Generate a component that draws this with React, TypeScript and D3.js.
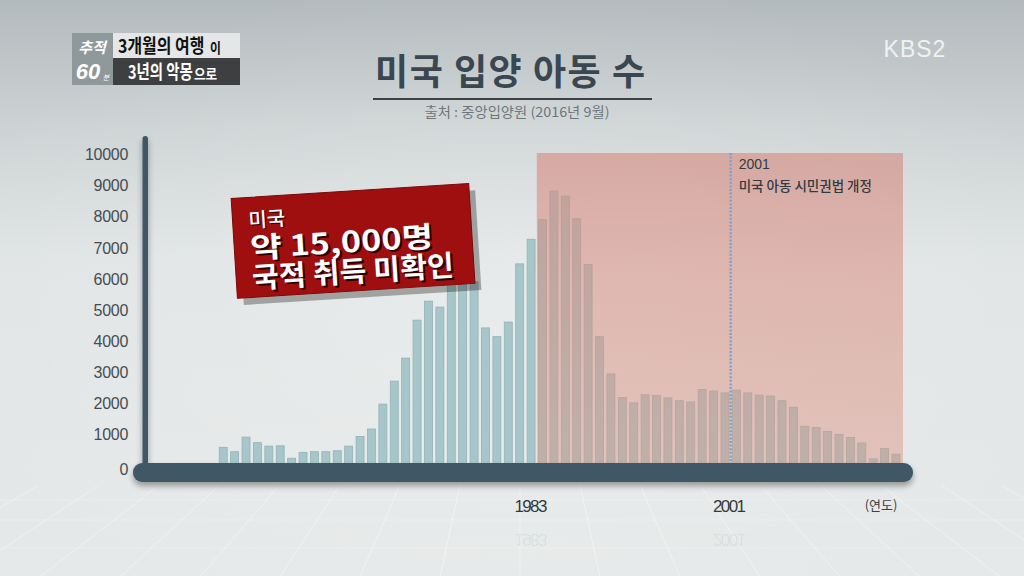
import React from "react";
import * as d3 from "d3";

const years: number[] = d3.range(1953, 2016);
const adoptions: number[] = [
  4, 8, 59, 600, 460, 930, 750, 640, 650, 250,
  440, 460, 460, 490, 640, 950, 1190, 1990, 2730, 3470,
  4690, 5300, 5110, 6600, 6160, 5920, 4440, 4160, 4630, 6500,
  7290, 7920, 8840, 8680, 7950, 6480, 4160, 2960, 2200, 2030,
  2290, 2270, 2190, 2100, 2060, 2460, 2410, 2350, 2440, 2350,
  2280, 2250, 2100, 1890, 1280, 1240, 1110, 1020, 920, 740,
  230, 560, 380,
];
const yTicks: number[] = [0, 1000, 2000, 3000, 4000, 5000, 6000, 7000, 8000, 9000, 10000];
const xLabels: number[] = [1983, 2001];
const highlightStart = 1984;
const lawYear = 2001;

const title = "미국 입양 아동 수";
const source = "출처 : 중앙입양원 (2016년 9월)";
const boxLines = ["미국", "약 15,000명", "국적 취득 미확인"];
const noteLines = ["2001", "미국 아동 시민권법 개정"];
const unitLabel = "(연도)";

const KR = "'Noto Sans CJK KR', 'Noto Sans', sans-serif";
const NUM = "'Liberation Sans', Arial, sans-serif";

export default function App() {
  const x = d3
    .scaleBand<number>()
    .domain(years)
    .range([183.3, 901.7])
    .paddingInner(0.3)
    .paddingOuter(0.15);
  const y = d3.scaleLinear().domain([0, 10000]).range([466, 155]);
  const step = x.step();
  const bw = x.bandwidth();
  const redX0 = (x(highlightStart) as number) - step * 0.15;
  const lawX = (x(lawYear) as number) - step * 0.15;

  const floorLines = d3.range(-14, 15).map((i) => i);

  return (
    <div style={{ position: "fixed", left: 0, top: 0, width: 1024, height: 576 }}>
      <svg width={1024} height={576} style={{ display: "block" }}>
        <defs>
          <linearGradient id="bg" x1="0" y1="0" x2="0" y2="1">
            <stop offset="0" stopColor="#b3babd" />
            <stop offset="0.22" stopColor="#cdd3d4" />
            <stop offset="0.45" stopColor="#e0e4e4" />
            <stop offset="1" stopColor="#e6e9e9" />
          </linearGradient>
          <radialGradient id="spot" cx="0.5" cy="0.55" r="0.6">
            <stop offset="0" stopColor="#ffffff" stopOpacity="0.25" />
            <stop offset="1" stopColor="#ffffff" stopOpacity="0" />
          </radialGradient>
          <linearGradient id="redGrad" x1="0" y1="0" x2="0" y2="1">
            <stop offset="0" stopColor="#d6857a" stopOpacity="0.58" />
            <stop offset="1" stopColor="#db9888" stopOpacity="0.48" />
          </linearGradient>
          <filter id="axShadow" x="-5%" y="-50%" width="110%" height="250%">
            <feGaussianBlur in="SourceAlpha" stdDeviation="3" />
            <feOffset dx="0" dy="4" result="b" />
            <feComponentTransfer>
              <feFuncA type="linear" slope="0.35" />
            </feComponentTransfer>
            <feMerge>
              <feMergeNode />
              <feMergeNode in="SourceGraphic" />
            </feMerge>
          </filter>
          <clipPath id="floorClip">
            <rect x={0} y={486} width={1024} height={90} />
          </clipPath>
        </defs>

        <rect x={0} y={0} width={1024} height={576} fill="url(#bg)" />
        <rect x={0} y={0} width={1024} height={576} fill="url(#spot)" />

        {/* floor perspective lines */}
        <g clipPath="url(#floorClip)" stroke="#ffffff" strokeOpacity={0.4} strokeWidth={1}>
          {floorLines.map((i) => (
            <line key={i} x1={520 + i * 20} y1={300} x2={520 + i * 150} y2={900} />
          ))}
          {[500, 520, 548].map((yy) => (
            <line key={yy} x1={0} y1={yy} x2={1024} y2={yy} strokeOpacity={0.25} />
          ))}
        </g>

        {/* logo top-left */}
        <rect x={72} y={33} width={41} height={52} fill="#8f989b" />
        <text x={92} y={53} fill="#ffffff" fontFamily={KR} fontSize={15} fontStyle="italic" textAnchor="middle" fontWeight={700}>
          추적
        </text>
        <text x={88} y={79} fill="#ffffff" fontFamily={NUM} fontSize={22} fontStyle="italic" textAnchor="middle" fontWeight={700}>
          60
        </text>
        <text x={106} y={80} fill="#ffffff" fontFamily={KR} fontSize={7} fontStyle="italic" textAnchor="middle">
          분
        </text>
        <rect x={113} y={33} width={127} height={25} fill="#e4e6e7" />
        <rect x={113} y={58} width={127} height={27} fill="#3d3f40" />
        <g transform="translate(118 53) scale(0.84 1)">
          <text x={0} y={0} fill="#111" fontFamily={KR} fontSize={19} fontWeight={700}>
            3개월의 여행
          </text>
        </g>
        <g transform="translate(210 53) scale(0.85 1)">
          <text x={0} y={0} fill="#111" fontFamily={KR} fontSize={14} fontWeight={700}>
            이
          </text>
        </g>
        <g transform="translate(128 79) scale(0.76 1)">
          <text x={0} y={0} fill="#ffffff" fontFamily={KR} fontSize={19} fontWeight={700}>
            3년의 악몽
          </text>
        </g>
        <g transform="translate(194 79) scale(0.9 1)">
          <text x={0} y={0} fill="#ffffff" fontFamily={KR} fontSize={14} fontWeight={700}>
            으로
          </text>
        </g>

        {/* KBS2 */}
        <text x={915} y={57} fill="#ffffff" fillOpacity={0.8} fontFamily={NUM} fontSize={23} textAnchor="middle" letterSpacing={1}>
          KBS2
        </text>

        {/* title */}
        <text x={510} y={85} fill="#3a4751" fontFamily={KR} fontSize={36} fontWeight={700} textAnchor="middle" textLength={270} lengthAdjust="spacing">
          {title}
        </text>
        <line x1={373} x2={652} y1={99} y2={99} stroke="#3a4248" strokeWidth={2} />
        <text x={517} y={117} fill="#6c777c" fontFamily={KR} fontSize={13.5} textAnchor="middle" textLength={185} lengthAdjust="spacingAndGlyphs">
          {source}
        </text>

        {/* bars */}
        <g>
          {years.map((yr, i) => {
            const v = adoptions[i];
            const top = y(v);
            return (
              <rect
                key={yr}
                x={x(yr) as number}
                y={top}
                width={bw}
                height={Math.max(0, y(0) - top)}
                fill="#a7c6c9"
                stroke="#93b3b7"
                strokeWidth={0.8}
              />
            );
          })}
        </g>

        {/* highlight region */}
        <rect x={redX0} y={153} width={903 - redX0} height={y(0) - 153} fill="url(#redGrad)" />

        {/* 2001 dotted line */}
        <line x1={lawX} x2={lawX} y1={153} y2={y(0)} stroke="#6fa6d8" strokeWidth={2.4} strokeDasharray="2 1.6" />
        <text x={lawX + 8} y={169} fill="#333b40" fontFamily={NUM} fontSize={14}>
          {noteLines[0]}
        </text>
        <text x={lawX + 8} y={191} fill="#333b40" fontFamily={KR} fontSize={13.5} fontWeight={500}>
          {noteLines[1]}
        </text>

        {/* axes */}
        <g filter="url(#axShadow)">
          <rect x={142.5} y={136} width={5.5} height={340} rx={2.7} fill="#3f5865" />
          <rect x={133} y={463} width={780} height={19} rx={9} fill="#3f5865" />
        </g>
        {yTicks.map((t) => (
          <text
            key={t}
            x={128}
            y={t === 0 ? y(t) + 5 : y(t) + 1}
            fill="#454d52"
            fontFamily={NUM}
            fontSize={16}
            textAnchor="end"
            dominantBaseline="middle"
            letterSpacing={-0.3}
          >
            {t}
          </text>
        ))}

        {/* x labels */}
        {xLabels.map((yr) => {
          const cx = yr === lawYear ? lawX - 2 : (x(yr) as number) + bw / 2 - 1;
          return (
            <g key={yr}>
              <text x={cx} y={512} fill="#333a3e" fontFamily={NUM} fontSize={17} textAnchor="middle" letterSpacing={-1.6}>
                {yr}
              </text>
              <text
                x={cx}
                y={-534}
                transform="scale(1,-1)"
                fill="#333a3e"
                fillOpacity={0.08}
                fontFamily={NUM}
                fontSize={17}
                textAnchor="middle"
                letterSpacing={-1.6}
              >
                {yr}
              </text>
            </g>
          );
        })}
        <text x={881} y={510} fill="#3a4145" fontFamily={KR} fontSize={13} textAnchor="middle">
          {unitLabel}
        </text>

        {/* red callout box */}
        <g transform="rotate(-3.6 352 240)">
          <rect x={236} y={194} width={238} height={100} fill="#000" fillOpacity={0.3} transform="translate(4 4)" />
          <rect x={234} y={191} width={238} height={100} fill="#a00f0f" stroke="#7a0808" strokeWidth={1} />
          <g fontFamily={KR} fontWeight={700}>
            <text x={251} y={222} fill="#2a0000" fontSize={20} fontWeight={500}>
              {boxLines[0]}
            </text>
            <text x={250} y={221} fill="#ffffff" fontSize={20} fontWeight={500}>
              {boxLines[0]}
            </text>
            <text x={252} y={254} fill="#2a0000" fontSize={29} textLength={183} lengthAdjust="spacingAndGlyphs">
              {boxLines[1]}
            </text>
            <text x={250} y={252} fill="#ffffff" fontSize={29} textLength={183} lengthAdjust="spacingAndGlyphs">
              {boxLines[1]}
            </text>
            <text x={252} y={284} fill="#2a0000" fontSize={29} textLength={202} lengthAdjust="spacing">
              {boxLines[2]}
            </text>
            <text x={250} y={282} fill="#ffffff" fontSize={29} textLength={202} lengthAdjust="spacing">
              {boxLines[2]}
            </text>
          </g>
        </g>
      </svg>
    </div>
  );
}
